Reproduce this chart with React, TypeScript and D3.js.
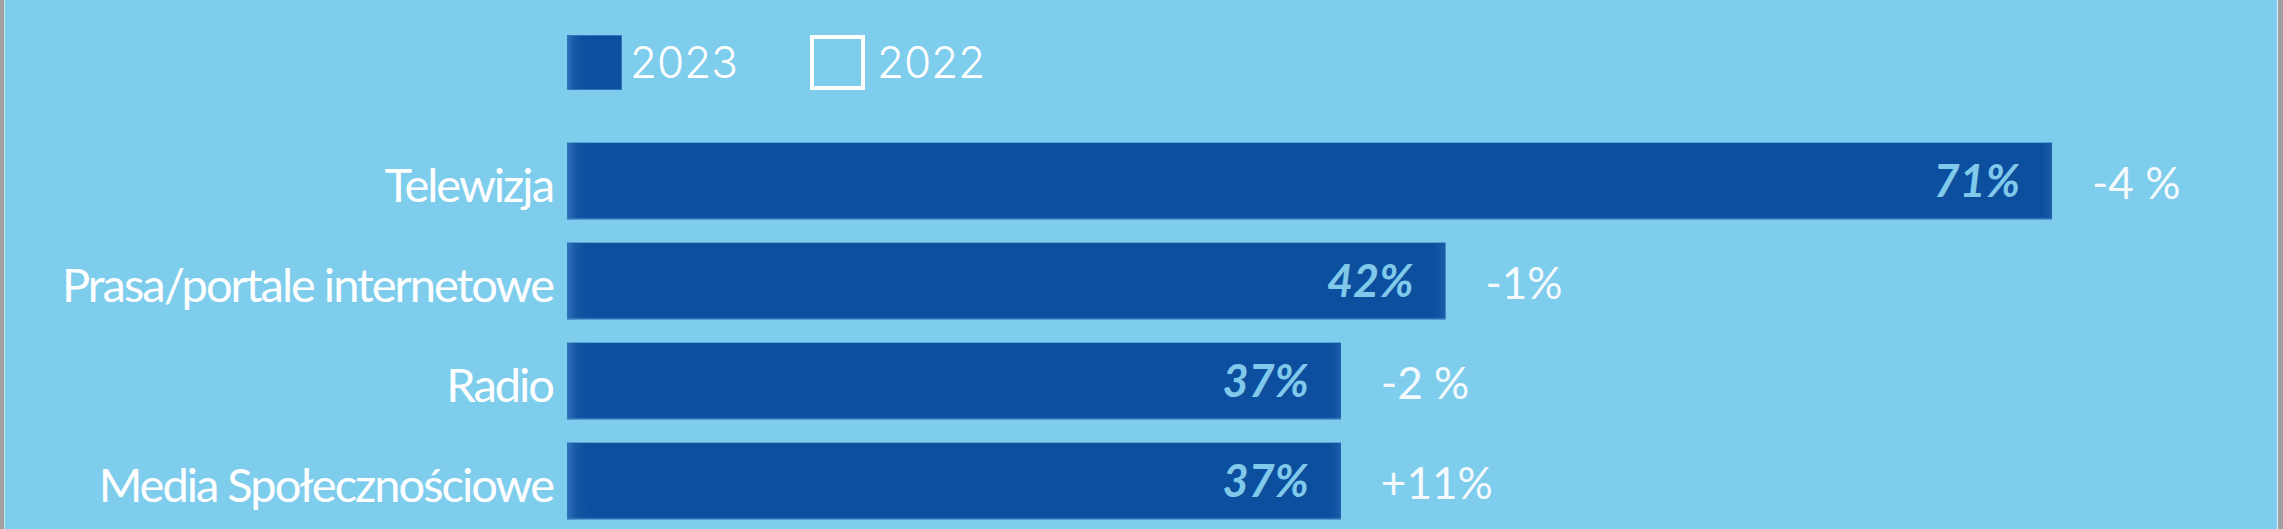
import React from "react";
import * as d3 from "d3";

const categories = ["Telewizja", "Prasa/portale internetowe", "Radio", "Media Społecznościowe"];
const values2023 = [71, 42, 37, 37];
const changeLabels = ["-4 %", "-1%", "-2 %", "+11%"];
const legendLabels = ["2023", "2022"];

const W = 2283;
const H = 529;
const BG = "#7fcdec";
const BAR = "#0c4f9e";
const VALUE_COLOR = "#80c9ea";

export default function App() {
  const x = d3.scaleLinear().domain([0, 71]).range([567, 2052]);
  const y = d3
    .scaleBand<string>()
    .domain(categories)
    .range([131, 531])
    .paddingInner(0.234)
    .paddingOuter(0.117);
  const bw = y.bandwidth();

  return (
    <svg
      width={W}
      height={H}
      style={{ position: "absolute", left: 0, top: 0, display: "block" }}
    >
      <defs>
        <linearGradient id="leftShade" x1="0" x2="1" y1="0" y2="0">
          <stop offset="0" stopColor="#3a7cc0" stopOpacity="0.85" />
          <stop offset="0.35" stopColor="#2466b0" stopOpacity="0.4" />
          <stop offset="1" stopColor={BAR} stopOpacity="0" />
        </linearGradient>
        <linearGradient id="rightShade" x1="0" x2="1" y1="0" y2="0">
          <stop offset="0" stopColor={BAR} stopOpacity="0" />
          <stop offset="1" stopColor="#2a6ab4" stopOpacity="0.6" />
        </linearGradient>
      </defs>
      <rect x={0} y={0} width={W} height={H} fill={BG} />
      {/* frame edges */}
      <rect x={0} y={0} width={4} height={H} fill="#a0a0a0" />
      <rect x={4} y={0} width={1} height={H} fill="#c8e6f2" />
      <rect x={2278} y={0} width={5} height={H} fill="#a0a0a0" />
      <rect x={2277} y={0} width={1} height={H} fill="#d8eef6" />

      {/* legend */}
      <g>
        <rect x={567} y={35} width={55} height={55} fill={BAR} />
        <rect x={567} y={35} width={22} height={55} fill="url(#leftShade)" />
        <rect x={567.5} y={35.5} width={54} height={54} fill="none" stroke="#2f73bb" strokeWidth={1} />
        <text
          x={630}
          y={78}
          fill="#ffffff"
          fontFamily="Inter, 'Noto Sans', sans-serif"
          fontWeight={300}
          fontSize={44}
        >
          {legendLabels[0]}
        </text>
        <rect x={812} y={37} width={51} height={51} fill="none" stroke="#ffffff" strokeWidth={4} />
        <text
          x={877}
          y={78}
          fill="#ffffff"
          fontFamily="Inter, 'Noto Sans', sans-serif"
          fontWeight={300}
          fontSize={44}
        >
          {legendLabels[1]}
        </text>
      </g>

      {categories.map((c, i) => {
        const y0 = y(c)!;
        const cy = y0 + bw / 2;
        const x0 = x(0);
        const x1 = x(values2023[i]);
        return (
          <g key={c}>
            <rect x={x0} y={y0} width={x1 - x0} height={bw} fill={BAR} />
            <rect x={x0} y={y0} width={26} height={bw} fill="url(#leftShade)" />
            <rect x={x1 - 14} y={y0} width={14} height={bw} fill="url(#rightShade)" />
            <rect x={x0} y={y0 + bw - 1.5} width={x1 - x0} height={1.5} fill="#3f86c8" opacity={0.6} />
            <text
              x={553}
              y={cy + 21}
              textAnchor="end"
              fill="#ffffff"
              fontFamily="Lato, 'Open Sans', sans-serif"
              fontWeight={400}
              fontSize={47}
              letterSpacing={-2}
            >
              {c}
            </text>
            <text
              x={x1 - 32}
              y={cy + 16}
              textAnchor="end"
              fill={VALUE_COLOR}
              fontFamily="Lato, 'Open Sans', sans-serif"
              fontWeight={700}
              fontStyle="italic"
              fontSize={45}
            >
              {values2023[i]}%
            </text>
            <text
              x={x1 + 40}
              y={cy + 18}
              fill="#f4fafd"
              fontFamily="Lato, 'Open Sans', sans-serif"
              fontWeight={400}
              fontSize={44}
            >
              {changeLabels[i]}
            </text>
          </g>
        );
      })}
    </svg>
  );
}
